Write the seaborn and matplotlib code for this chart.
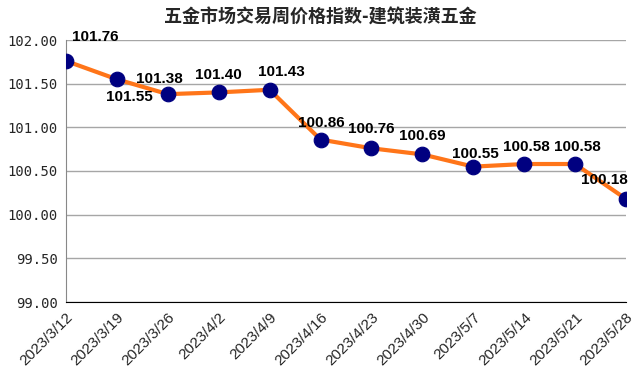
import pandas as pd
import seaborn as sns
import matplotlib.pyplot as plt

dates = ["2023/3/12", "2023/3/19", "2023/3/26", "2023/4/2", "2023/4/9", "2023/4/16",
         "2023/4/23", "2023/4/30", "2023/5/7", "2023/5/14", "2023/5/21", "2023/5/28"]
index_values = [101.76, 101.55, 101.38, 101.40, 101.43, 100.86,
                100.76, 100.69, 100.55, 100.58, 100.58, 100.18]

df = pd.DataFrame({"date": dates, "value": index_values})
df["pos"] = range(len(df))

sns.set_style("white")
plt.rcParams["font.family"] = ["Noto Sans CJK SC", "DejaVu Sans"]

fig = plt.figure(figsize=(6.4, 3.84), dpi=100)
ax = fig.add_axes([66 / 640, 1 - 302 / 384, 560 / 640, 262 / 384])

sns.lineplot(data=df, x="pos", y="value", ax=ax, color="#ff7519", linewidth=3, zorder=2)
sns.scatterplot(data=df, x="pos", y="value", ax=ax, color="#000080", s=110,
                edgecolor="#000080", zorder=3, legend=False)

# label offsets in pixels (dx, dy)
offsets = [(29, 24), (12, -18), (-8, 15), (0, 17), (12, 18), (1, 17),
           (0, 19), (0, 18), (2, 13), (2, 17), (2, 17), (-22, 19)]
for p, v, (dx, dy) in zip(df["pos"], df["value"], offsets):
    ax.annotate(f"{v:.2f}", (p, v), xytext=(dx, dy), textcoords="offset pixels",
                ha="center", va="center", fontsize=11, fontweight="bold",
                family="Liberation Sans", color="black", zorder=4)

ax.set_xlim(0, len(dates) - 1)
ax.set_ylim(99, 102)
ax.set_yticks([99 + 0.5 * i for i in range(7)])
ax.set_yticklabels([f"{99 + 0.5 * i:.2f}" for i in range(7)], fontsize=10, family="DejaVu Sans Mono")
ax.set_xticks(df["pos"])
ax.set_xticklabels(dates, rotation=45, ha="right", rotation_mode="anchor",
                   fontsize=11, family="Liberation Sans")
ax.tick_params(axis="x", length=0, pad=6)
ax.tick_params(axis="y", length=0, pad=6)
ax.set_xlabel("")
ax.set_ylabel("")

ax.grid(axis="y", color="#a6a6a6", linewidth=1)
for s in ["top", "right"]:
    ax.spines[s].set_visible(False)
ax.spines["left"].set_color("#888888")
ax.spines["bottom"].set_color("black")
ax.spines["bottom"].set_zorder(5)

fig.text(0.5, 1 - 17 / 384, "五金市场交易周价格指数-建筑装潢五金", ha="center", va="center",
         fontsize=13, fontweight="bold")

fig.savefig("out.png", dpi=100)
